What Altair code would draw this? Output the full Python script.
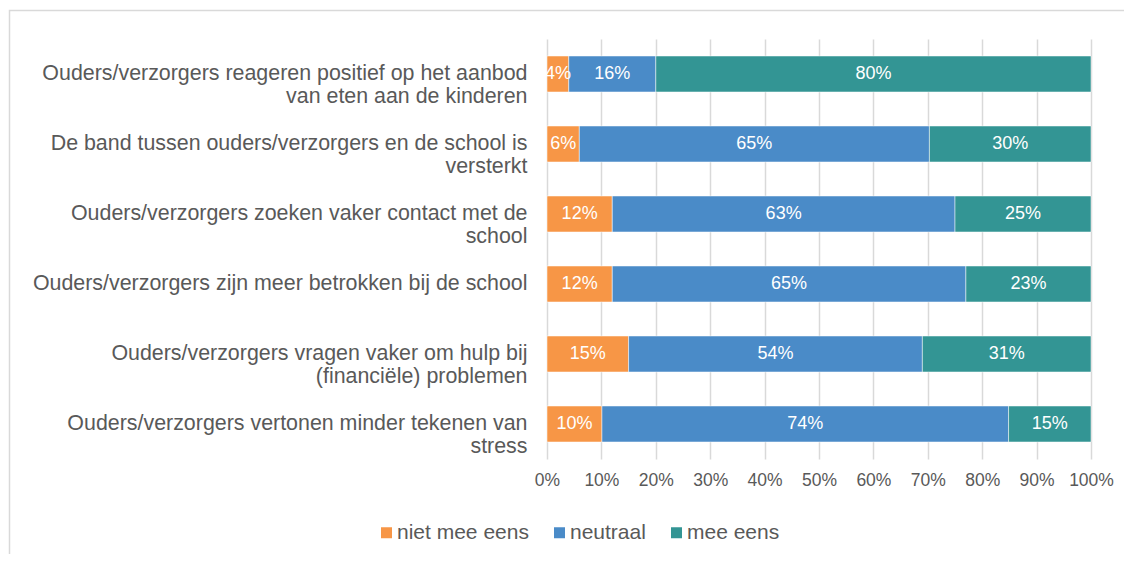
import altair as alt
import pandas as pd

categories = [
    "Ouders/verzorgers reageren positief op het aanbod|van eten aan de kinderen ",
    "De band tussen ouders/verzorgers en de school is|versterkt",
    "Ouders/verzorgers zoeken vaker contact met de|school",
    "Ouders/verzorgers zijn meer betrokken bij de school ",
    "Ouders/verzorgers vragen vaker om hulp bij|(financiële) problemen",
    "Ouders/verzorgers vertonen minder tekenen van|stress",
]
series = ["niet mee eens", "neutraal", "mee eens"]
niet_mee_eens = [4, 6, 12, 12, 15, 10]
neutraal = [16, 65, 63, 65, 54, 74]
mee_eens = [80, 30, 25, 23, 31, 15]
colors = ["#F79646", "#4A8BC8", "#339594"]

rows = []
for i, c in enumerate(categories):
    for j, (s, vals) in enumerate(zip(series, [niet_mee_eens, neutraal, mee_eens])):
        rows.append({"cat": c, "series": s, "order": j, "value": vals[i]})
df = pd.DataFrame(rows)

FONT = "Liberation Sans"
GRAY = "#595959"

base = alt.Chart(df).transform_joinaggregate(
    total="sum(value)", groupby=["cat"]
).transform_window(
    cum="sum(value)", groupby=["cat"], sort=[alt.SortField("order")]
).transform_calculate(
    x_end="datum.cum / datum.total",
    x_start="(datum.cum - datum.value) / datum.total",
    x_mid="(datum.cum - datum.value / 2) / datum.total",
    lbl="datum.value + '%'",
)

y_enc = alt.Y(
    "cat:N",
    sort=categories,
    title=None,
    scale=alt.Scale(paddingInner=0.486, paddingOuter=0.243),
    axis=alt.Axis(
        labelExpr="split(datum.label, '|')",
        labelFontSize=21.4,
        labelColor=GRAY,
        labelFont=FONT,
        labelPadding=20,
        labelLimit=0,
        labelLineHeight=22.5,
        ticks=False,
        domain=False,
        grid=False,
    ),
)

bars = base.mark_bar(stroke="white", strokeWidth=0.5).encode(
    x=alt.X(
        "x_start:Q",
        title=None,
        scale=alt.Scale(domain=[0, 1], nice=False),
        axis=alt.Axis(
            format="%",
            values=[i / 10 for i in range(11)],
            labelFontSize=17.5,
            labelColor=GRAY,
            labelFont=FONT,
            labelPadding=12,
            labelFlush=False,
            labelOverlap=False,
            ticks=False,
            domain=False,
            grid=True,
            gridColor="#D9D9D9",
            gridWidth=1.5,
        ),
    ),
    x2="x_end:Q",
    y=y_enc,
    color=alt.Color(
        "series:N",
        sort=series,
        scale=alt.Scale(domain=series, range=colors),
        title=None,
        legend=alt.Legend(
            orient="none",
            legendX=-171,
            legendY=483,
            direction="horizontal",
            symbolType="square",
            symbolSize=121,
            symbolStrokeWidth=0,
            labelFontSize=21,
            labelColor=GRAY,
            labelFont=FONT,
            columnPadding=20,
            labelOffset=0,
            labelLimit=0,
        ),
    ),
    order=alt.Order("order:Q"),
)

texts = base.mark_text(color="white", fontSize=18, font=FONT).encode(
    x="x_mid:Q",
    y=alt.Y("cat:N", sort=categories),
    text="lbl:N",
)

frame = alt.Chart(pd.DataFrame({"k": [0]})).mark_rect(
    fill=None, stroke="#D9D9D9", strokeWidth=1.5
).encode(
    x=alt.value(-537.5),
    x2=alt.value(700),
    y=alt.value(-28.5),
    y2=alt.value(700),
)

chart = alt.layer(frame, bars, texts).properties(
    width=544,
    height=420,
    padding={"left": 539, "top": 31, "right": 33, "bottom": 95},
    autosize=alt.AutoSizeParams(type="none"),
).configure_view(stroke=None)

chart.save("out.html", embed_options={"renderer": "svg", "actions": False})
